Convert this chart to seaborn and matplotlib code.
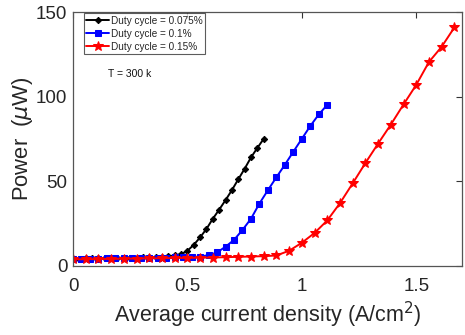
import numpy as np
import pandas as pd
import matplotlib
matplotlib.use("Agg")
import matplotlib.pyplot as plt
import seaborn as sns

labels = ["Duty cycle = 0.075%", "Duty cycle = 0.1%", "Duty cycle = 0.15%"]
x_max = [0.8333, 1.1111, 1.6667]

p_black = [4.3, 4.4, 4.5, 4.5, 4.6, 4.7, 4.7, 4.8, 4.9, 5.0, 5.0, 5.1, 5.2, 5.3, 5.4, 5.8,
           6.2, 7.0, 9.0, 12.5, 16.9, 21.9, 27.9, 33.3, 38.9, 44.8, 51.2, 57.4, 64.1, 69.7, 75.1]
p_blue = [4.2, 4.3, 4.4, 4.4, 4.5, 4.6, 4.6, 4.7, 4.8, 4.8, 4.9, 5.0, 5.1, 5.2, 5.3, 5.6,
          6.4, 8.0, 11.4, 15.4, 21.3, 27.9, 36.9, 44.8, 52.4, 59.8, 67.5, 75.1, 82.7, 89.5, 95.2]
p_red = [3.9, 4.0, 4.1, 4.2, 4.3, 4.4, 4.5, 4.6, 4.7, 4.8, 4.9, 5.0, 5.2, 5.4, 5.6, 5.8,
         6.2, 9.0, 13.7, 19.5, 26.9, 37.1, 48.8, 60.8, 72.3, 83.5, 95.4, 107.0, 120.5, 129.5, 140.9]

series = [p_black, p_blue, p_red]
rows = []
for lab, xm, ys in zip(labels, x_max, series):
    xs = np.linspace(0, xm, len(ys))
    for xv, yv in zip(xs, ys):
        rows.append({"x": xv, "y": yv, "s": lab})
df = pd.DataFrame(rows)

sns.set_style("white")
plt.rcParams["font.family"] = ["Liberation Sans", "DejaVu Sans"]

fig = plt.figure(figsize=(4.65, 3.35), dpi=100)
ax = fig.add_axes([0.157, 0.206, 0.8365, 0.758])

palette = {labels[0]: "#000000", labels[1]: "#0000ff", labels[2]: "#ff0000"}
markers = {labels[0]: "D", labels[1]: "s", labels[2]: "*"}
sizes_m = {labels[0]: 3.2, labels[1]: 3.8, labels[2]: 7}

for lab in labels:
    sub = df[df.s == lab]
    sns.lineplot(data=sub, x="x", y="y", ax=ax, color=palette[lab], marker=markers[lab],
                 markersize=sizes_m[lab], markeredgecolor=palette[lab], linewidth=1.4,
                 label=lab, estimator=None, sort=False)

ax.set_xlim(0, 1.7)
ax.set_ylim(0, 150)
ax.set_xticks([0, 0.5, 1, 1.5])
ax.set_xticklabels(["0", "0.5", "1", "1.5"])
ax.set_yticks([0, 50, 100, 150])
ax.tick_params(direction="in", length=4, width=0.8, labelsize=13.5, colors="#333333",
               top=True, right=True, labelcolor="#262626")
ax.tick_params(axis="x", pad=9)
ax.tick_params(axis="y", pad=4)
for sp in ax.spines.values():
    sp.set_color("#555555")
    sp.set_linewidth(0.9)
    sp.set_visible(True)

ax.set_xlabel("Average current density (A/cm$^2$)", fontsize=15.5, color="#262626", labelpad=3)
ax.set_ylabel("Power  ($\\mu$W)", fontsize=15.8, color="#262626", labelpad=1)

leg = ax.legend(loc="upper left", fontsize=7.2, frameon=True, fancybox=False,
                borderpad=0.25, handlelength=2.3, handletextpad=0.15, labelspacing=0.3,
                bbox_to_anchor=(0.027, 0.995), borderaxespad=0.0)
leg.get_frame().set_edgecolor("#333333")
leg.get_frame().set_linewidth(0.8)

ax.text(0.09, 0.755, "T = 300 k", transform=ax.transAxes, fontsize=7.5, color="#111111",
        va="center", ha="left")

fig.savefig("out.png", dpi=100)
